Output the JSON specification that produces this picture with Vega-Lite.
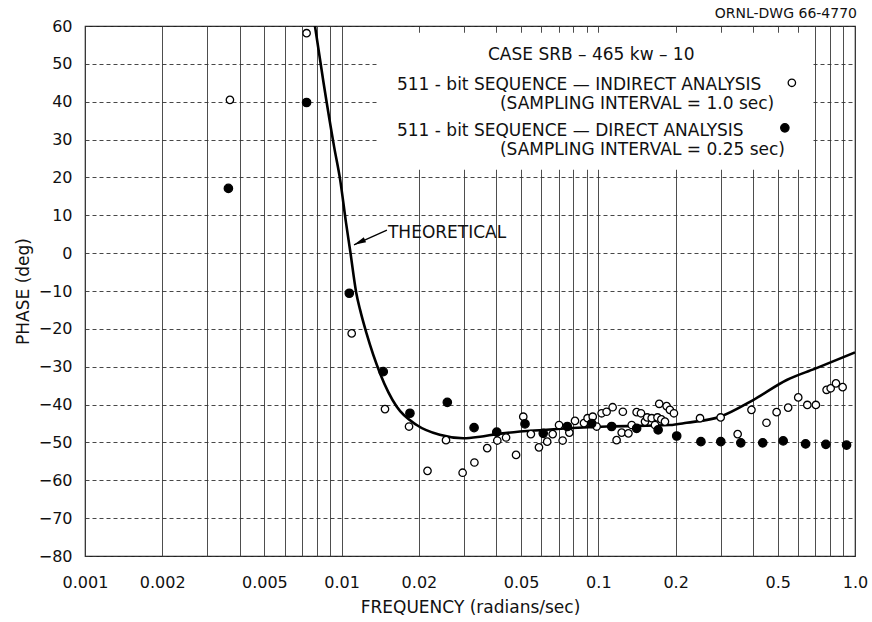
{
  "$schema": "https://vega.github.io/schema/vega-lite/v6.json",
  "width": 770,
  "height": 530,
  "autosize": {"type": "none"},
  "padding": {"left": 85, "top": 26, "right": 17, "bottom": 66},
  "background": "white",
  "title": {"text": "ORNL-DWG 66-4770", "anchor": "end", "frame": "group", "fontSize": 14, "fontWeight": "normal", "offset": 10, "dy": 13, "dx": 2, "color": "#111"},
  "config": {
    "font": "DejaVu Sans",
    "view": {"stroke": "#222", "strokeWidth": 1.2},
    "axis": {"labelColor": "#111", "titleColor": "#111"}
  },
  "datasets": {
    "theory": [
      {"freq": 0.00787, "phase": 60},
      {"freq": 0.0085, "phase": 45},
      {"freq": 0.00935, "phase": 28},
      {"freq": 0.00987, "phase": 19.3},
      {"freq": 0.0104, "phase": 8},
      {"freq": 0.0108, "phase": 0.5},
      {"freq": 0.0114, "phase": -10.5},
      {"freq": 0.0118, "phase": -15},
      {"freq": 0.0125, "phase": -21.2},
      {"freq": 0.0141, "phase": -31.7},
      {"freq": 0.0164, "phase": -40.6},
      {"freq": 0.0196, "phase": -45.4},
      {"freq": 0.0241, "phase": -48.0},
      {"freq": 0.0298, "phase": -48.9},
      {"freq": 0.0346, "phase": -48.5},
      {"freq": 0.0402, "phase": -47.8},
      {"freq": 0.061, "phase": -46.7},
      {"freq": 0.108, "phase": -45.8},
      {"freq": 0.19, "phase": -45.4},
      {"freq": 0.221, "phase": -44.8},
      {"freq": 0.298, "phase": -43.2},
      {"freq": 0.401, "phase": -38.8},
      {"freq": 0.542, "phase": -33.5},
      {"freq": 0.7, "phase": -30.5},
      {"freq": 1.0, "phase": -26.2}
    ],
    "measured": [
      {"freq": 0.00367, "phase": 40.5, "analysis": "indirect"},
      {"freq": 0.0073, "phase": 58.1, "analysis": "indirect"},
      {"freq": 0.01094, "phase": -21.2, "analysis": "indirect"},
      {"freq": 0.01475, "phase": -41.2, "analysis": "indirect"},
      {"freq": 0.0183, "phase": -45.8, "analysis": "indirect"},
      {"freq": 0.0216, "phase": -57.5, "analysis": "indirect"},
      {"freq": 0.0255, "phase": -49.4, "analysis": "indirect"},
      {"freq": 0.0296, "phase": -58.0, "analysis": "indirect"},
      {"freq": 0.0329, "phase": -55.3, "analysis": "indirect"},
      {"freq": 0.0369, "phase": -51.5, "analysis": "indirect"},
      {"freq": 0.0404, "phase": -49.5, "analysis": "indirect"},
      {"freq": 0.0437, "phase": -48.7, "analysis": "indirect"},
      {"freq": 0.0478, "phase": -53.3, "analysis": "indirect"},
      {"freq": 0.051, "phase": -43.2, "analysis": "indirect"},
      {"freq": 0.0546, "phase": -47.8, "analysis": "indirect"},
      {"freq": 0.0587, "phase": -51.3, "analysis": "indirect"},
      {"freq": 0.0632, "phase": -49.8, "analysis": "indirect"},
      {"freq": 0.0664, "phase": -47.8, "analysis": "indirect"},
      {"freq": 0.0703, "phase": -45.4, "analysis": "indirect"},
      {"freq": 0.0726, "phase": -49.5, "analysis": "indirect"},
      {"freq": 0.0771, "phase": -47.4, "analysis": "indirect"},
      {"freq": 0.0811, "phase": -44.3, "analysis": "indirect"},
      {"freq": 0.0879, "phase": -44.9, "analysis": "indirect"},
      {"freq": 0.0908, "phase": -43.6, "analysis": "indirect"},
      {"freq": 0.0951, "phase": -43.2, "analysis": "indirect"},
      {"freq": 0.0985, "phase": -45.8, "analysis": "indirect"},
      {"freq": 0.103, "phase": -42.3, "analysis": "indirect"},
      {"freq": 0.1077, "phase": -41.9, "analysis": "indirect"},
      {"freq": 0.1137, "phase": -40.7, "analysis": "indirect"},
      {"freq": 0.1178, "phase": -49.4, "analysis": "indirect"},
      {"freq": 0.1233, "phase": -47.4, "analysis": "indirect"},
      {"freq": 0.1246, "phase": -41.9, "analysis": "indirect"},
      {"freq": 0.131, "phase": -47.6, "analysis": "indirect"},
      {"freq": 0.1349, "phase": -45.4, "analysis": "indirect"},
      {"freq": 0.141, "phase": -42.0, "analysis": "indirect"},
      {"freq": 0.1466, "phase": -42.3, "analysis": "indirect"},
      {"freq": 0.152, "phase": -44.5, "analysis": "indirect"},
      {"freq": 0.155, "phase": -43.4, "analysis": "indirect"},
      {"freq": 0.1614, "phase": -43.6, "analysis": "indirect"},
      {"freq": 0.1662, "phase": -45.4, "analysis": "indirect"},
      {"freq": 0.17, "phase": -43.4, "analysis": "indirect"},
      {"freq": 0.1727, "phase": -39.8, "analysis": "indirect"},
      {"freq": 0.176, "phase": -43.9, "analysis": "indirect"},
      {"freq": 0.1818, "phase": -44.5, "analysis": "indirect"},
      {"freq": 0.1845, "phase": -40.4, "analysis": "indirect"},
      {"freq": 0.19, "phase": -41.4, "analysis": "indirect"},
      {"freq": 0.197, "phase": -42.3, "analysis": "indirect"},
      {"freq": 0.249, "phase": -43.6, "analysis": "indirect"},
      {"freq": 0.2996, "phase": -43.4, "analysis": "indirect"},
      {"freq": 0.349, "phase": -47.8, "analysis": "indirect"},
      {"freq": 0.395, "phase": -41.4, "analysis": "indirect"},
      {"freq": 0.452, "phase": -44.8, "analysis": "indirect"},
      {"freq": 0.495, "phase": -42.0, "analysis": "indirect"},
      {"freq": 0.549, "phase": -40.8, "analysis": "indirect"},
      {"freq": 0.601, "phase": -38.1, "analysis": "indirect"},
      {"freq": 0.652, "phase": -40.1, "analysis": "indirect"},
      {"freq": 0.704, "phase": -40.1, "analysis": "indirect"},
      {"freq": 0.775, "phase": -36.1, "analysis": "indirect"},
      {"freq": 0.804, "phase": -35.7, "analysis": "indirect"},
      {"freq": 0.843, "phase": -34.4, "analysis": "indirect"},
      {"freq": 0.895, "phase": -35.4, "analysis": "indirect"},
      {"freq": 0.00362, "phase": 17.1, "analysis": "direct"},
      {"freq": 0.0073, "phase": 39.8, "analysis": "direct"},
      {"freq": 0.01071, "phase": -10.6, "analysis": "direct"},
      {"freq": 0.01452, "phase": -31.3, "analysis": "direct"},
      {"freq": 0.01845, "phase": -42.3, "analysis": "direct"},
      {"freq": 0.0258, "phase": -39.4, "analysis": "direct"},
      {"freq": 0.0328, "phase": -46.1, "analysis": "direct"},
      {"freq": 0.0402, "phase": -47.3, "analysis": "direct"},
      {"freq": 0.0518, "phase": -45.1, "analysis": "direct"},
      {"freq": 0.061, "phase": -47.6, "analysis": "direct"},
      {"freq": 0.0757, "phase": -45.8, "analysis": "direct"},
      {"freq": 0.0942, "phase": -45.0, "analysis": "direct"},
      {"freq": 0.1127, "phase": -45.8, "analysis": "direct"},
      {"freq": 0.141, "phase": -46.3, "analysis": "direct"},
      {"freq": 0.171, "phase": -46.7, "analysis": "direct"},
      {"freq": 0.202, "phase": -48.3, "analysis": "direct"},
      {"freq": 0.251, "phase": -49.8, "analysis": "direct"},
      {"freq": 0.3, "phase": -49.8, "analysis": "direct"},
      {"freq": 0.359, "phase": -50.1, "analysis": "direct"},
      {"freq": 0.437, "phase": -50.1, "analysis": "direct"},
      {"freq": 0.525, "phase": -49.6, "analysis": "direct"},
      {"freq": 0.642, "phase": -50.4, "analysis": "direct"},
      {"freq": 0.77, "phase": -50.5, "analysis": "direct"},
      {"freq": 0.927, "phase": -50.7, "analysis": "direct"}
    ],
    "legendSymbols": [
      {"freq": 0.5675, "phase": 45.0, "analysis": "indirect"},
      {"freq": 0.533, "phase": 33.1, "analysis": "direct"}
    ],
    "box": [
      {"freq": 0.01385, "freq2": 0.679, "phase": 22.0, "phase2": 58.2}
    ],
    "notes": [
      {"freq": 0.03715, "phase": 52.3, "label": "CASE SRB – 465 kw – 10"},
      {"freq": 0.01642, "phase": 44.4, "label": "511 - bit SEQUENCE — INDIRECT ANALYSIS"},
      {"freq": 0.04137, "phase": 39.4, "label": "(SAMPLING INTERVAL = 1.0 sec)"},
      {"freq": 0.01642, "phase": 32.3, "label": "511 - bit SEQUENCE — DIRECT ANALYSIS"},
      {"freq": 0.04137, "phase": 27.2, "label": "(SAMPLING INTERVAL = 0.25 sec)"},
      {"freq": 0.01515, "phase": 5.3, "label": "THEORETICAL"}
    ],
    "arrow": [
      {"freq": 0.01501, "phase": 6.1, "freq2": 0.01117, "phase2": 2.2}
    ],
    "arrowHead": [
      {"freq": 0.01117, "phase": 2.2}
    ]
  },
  "encoding": {
    "x": {
      "field": "freq",
      "type": "quantitative",
      "scale": {"type": "log", "domain": [0.001, 1], "nice": false},
      "axis": {
        "title": "FREQUENCY  (radians/sec)",
        "values": [0.001, 0.002, 0.003, 0.004, 0.005, 0.006, 0.007, 0.008, 0.009, 0.01, 0.02, 0.03, 0.04, 0.05, 0.06, 0.07, 0.08, 0.09, 0.1, 0.2, 0.3, 0.4, 0.5, 0.6, 0.7, 0.8, 0.9, 1],
        "labelExpr": "indexof([1,2,5], round(datum.value / pow(10, floor(log(datum.value) / LN10 + 0.000001)))) >= 0 ? (datum.value >= 0.999 ? '1.0' : format(datum.value, '~g')) : ''",
        "ticks": false,
        "tickSize": 0,
        "domain": false,
        "grid": true,
        "gridColor": "#3a3a3a",
        "gridWidth": 0.9,
        "labelFontSize": 16,
        "labelPadding": 18,
        "labelOverlap": false,
        "labelFlush": false,
        "labelBound": false,
        "titleFontSize": 17,
        "titleFontWeight": "normal",
        "titlePadding": 9
      }
    },
    "y": {
      "field": "phase",
      "type": "quantitative",
      "scale": {"domain": [-80, 60], "nice": false},
      "axis": {
        "title": "PHASE  (deg)",
        "values": [-80, -70, -60, -50, -40, -30, -20, -10, 0, 10, 20, 30, 40, 50, 60],
        "ticks": false,
        "tickSize": 0,
        "domain": false,
        "grid": true,
        "gridDash": [4, 3],
        "gridColor": "#333",
        "gridWidth": 0.9,
        "labelFontSize": 16,
        "labelPadding": 13,
        "labelOverlap": false,
        "titleFontSize": 17,
        "titleFontWeight": "normal",
        "titlePadding": 6
      }
    }
  },
  "layer": [
    {
      "data": {"name": "box"},
      "mark": {"type": "rect", "fill": "white", "stroke": null},
      "encoding": {"x2": {"field": "freq2"}, "y2": {"field": "phase2"}}
    },
    {
      "data": {"name": "theory"},
      "mark": {"type": "line", "color": "black", "strokeWidth": 2.6, "interpolate": "monotone", "clip": true},
      "encoding": {}
    },
    {
      "data": {"name": "measured"},
      "mark": {"type": "point", "shape": "circle", "filled": true, "stroke": "black", "strokeWidth": 1.3, "opacity": 1},
      "encoding": {
        "fill": {"field": "analysis", "type": "nominal", "scale": {"domain": ["indirect", "direct"], "range": ["white", "black"]}, "legend": null},
        "size": {"field": "analysis", "type": "nominal", "scale": {"domain": ["indirect", "direct"], "range": [55, 70]}, "legend": null}
      }
    },
    {
      "data": {"name": "legendSymbols"},
      "mark": {"type": "point", "shape": "circle", "filled": true, "stroke": "black", "strokeWidth": 1.3, "opacity": 1},
      "encoding": {
        "fill": {"field": "analysis", "type": "nominal", "scale": {"domain": ["indirect", "direct"], "range": ["white", "black"]}, "legend": null},
        "size": {"field": "analysis", "type": "nominal", "scale": {"domain": ["indirect", "direct"], "range": [45, 70]}, "legend": null}
      }
    },
    {
      "data": {"name": "notes"},
      "mark": {"type": "text", "align": "left", "baseline": "middle", "fontSize": 17, "color": "#111"},
      "encoding": {"text": {"field": "label"}}
    },
    {
      "data": {"name": "arrow"},
      "mark": {"type": "rule", "color": "black", "strokeWidth": 1.3},
      "encoding": {"x2": {"field": "freq2"}, "y2": {"field": "phase2"}}
    },
    {
      "data": {"name": "arrowHead"},
      "mark": {"type": "point", "shape": "M0,0L2.4,-0.55L2.4,0.55Z", "filled": true, "color": "black", "size": 100, "angle": 335.6, "opacity": 1},
      "encoding": {}
    }
  ]
}
